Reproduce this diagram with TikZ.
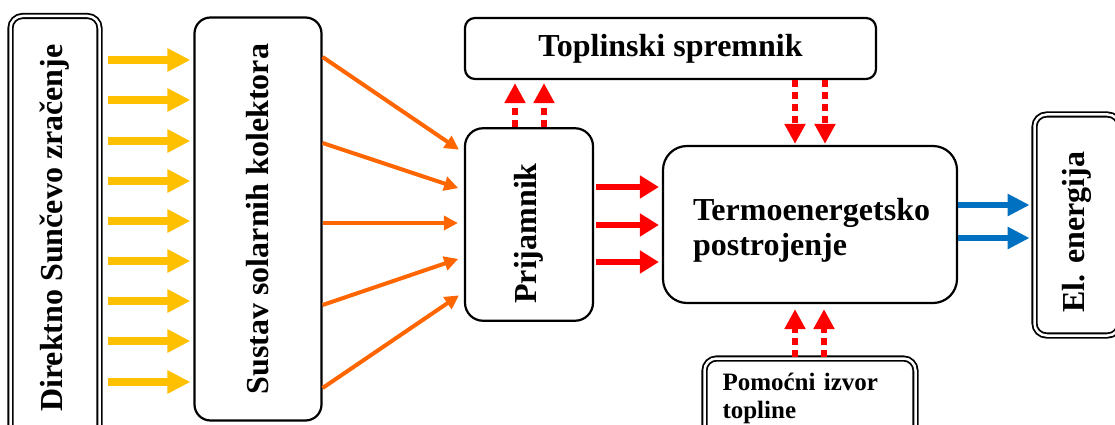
\documentclass[tikz,border=0pt]{standalone}
\usepackage{fontspec}
\setmainfont{Liberation Serif}
\usetikzlibrary{arrows.meta}
\definecolor{cyel}{HTML}{FFC000}
\definecolor{corg}{HTML}{FF6600}
\definecolor{cred}{HTML}{FF0000}
\definecolor{cblu}{HTML}{0070C0}
\begin{document}
\begin{tikzpicture}[x=1pt,y=-1pt,
  box/.style={draw=black, line width=2.2pt, rounded corners=#1, inner sep=0pt,
    font=\bfseries\fontsize{32}{36}\selectfont},
  dbox/.style={draw=black, double=white, double distance=2.5pt, line width=1.8pt,
    rounded corners=#1, inner sep=0pt, font=\bfseries\fontsize{32}{36}\selectfont},
  yar/.style={cyel, line width=8pt, -{Triangle[length=23pt,width=22pt]}},
  oar/.style={corg, line width=4pt, -{Triangle[length=14pt,width=14pt]}},
  rar/.style={cred, line width=6.5pt, -{Triangle[length=19pt,width=22pt]}},
  dar/.style={cred, line width=6pt, dash pattern=on 7pt off 5pt, -{Triangle[length=20pt,width=20pt]}},
  bar/.style={cblu, line width=6.5pt, -{Triangle[length=22pt,width=21pt]}}
]
\clip (0,0) rectangle (1115,425);
\fill[white] (0,0) rectangle (1115,425);

\node[dbox=12pt, minimum width=89pt, minimum height=424pt] (dir) at (55,228)
  {\rotatebox{90}{Direktno Sunčevo zračenje}};
\node[box=16pt, minimum width=127pt, minimum height=403pt] (sus) at (258,219)
  {\rotatebox{90}{Sustav solarnih kolektora}};
\node[box=18pt, minimum width=128pt, minimum height=192.5pt] (pri) at (529,224.5)
  {\rotatebox{90}{Prijamnik\hspace{18pt}}};
\node[box=10pt, minimum width=411pt, minimum height=61pt] (top) at (670.5,48.5)
  {Toplinski spremnik};
\node[box=24pt, minimum width=294pt, minimum height=157pt] (ter) at (810,224.5)
  {\raisebox{-6pt}[\height][\depth]{\hspace{3pt}\begin{tabular}{@{}l@{}}Termoenergetsko\\[-1pt]postrojenje\end{tabular}}};
\node[dbox=12pt, minimum width=211pt, minimum height=79pt, text width=175pt, align=left,
  font=\bfseries\fontsize{25}{28}\selectfont] (pom) at (810,398)
  {Pomoćni izvor\\topline};
\node[dbox=12pt, minimum width=85pt, minimum height=221pt] (el) at (1077,225)
  {\rotatebox{90}{El. energija\hspace{14pt}}};

\foreach \y in {60,100,141,181,221,261,301,341,382}
  \draw[yar, shorten <=8pt, shorten >=3pt] (dir.east |- 0,\y) -- (sus.west |- 0,\y);

\foreach \a/\b in {57/153,143/190,223/223,305/257,388/292}
  \draw[oar, shorten >=6pt] (sus.east |- 0,\a) -- (pri.west |- 0,\b);

\foreach \y in {187,225,262}
  \draw[rar, shorten <=2pt, shorten >=3pt] (pri.east |- 0,\y) -- (ter.west |- 0,\y);

\foreach \x in {515,544}
  \draw[dar, shorten >=3pt] (pri.north -| \x,0) -- (top.south -| \x,0);
\foreach \x in {795,825}
  \draw[dar, shorten >=1pt] (top.south -| \x,0) -- (ter.north -| \x,0);
\foreach \x in {795,824}
  \draw[dar, shorten <=1pt, shorten >=5pt] (pom.north -| \x,0) -- (ter.south -| \x,0);

\foreach \y in {205,238}
  \draw[bar, shorten >=4pt] (ter.east |- 0,\y) -- (el.west |- 0,\y);
\end{tikzpicture}
\end{document}
